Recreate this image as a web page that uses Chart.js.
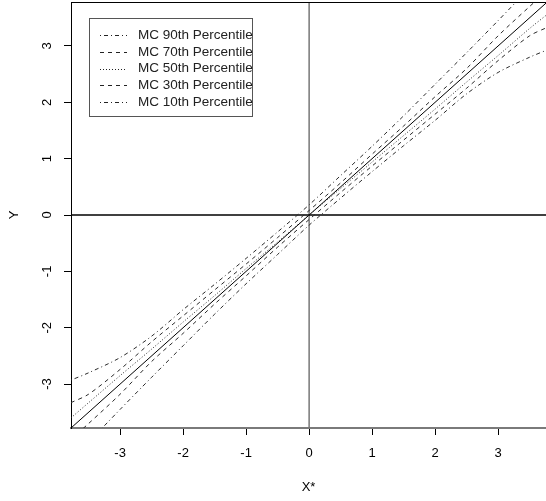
<!DOCTYPE html>
<html>
<head>
<meta charset="utf-8">
<script src="https://cdn.jsdelivr.net/npm/chart.js@4"></script>
<style>
  html, body { margin: 0; padding: 0; background: #fff; }
  #wrap { width: 546px; height: 501px; position: relative; }
</style>
</head>
<body>
<div id="wrap"><canvas id="chart"></canvas></div>
<script>
// valores
const xGrid = [-3.78, -3.5, -3, -2.5, -2, -1.5, -1, -0.5, 0, 0.5, 1, 1.5, 2, 2.5, 3, 3.5, 3.78];
const p90 = [-2.93, -2.80, -2.53, -2.15, -1.68, -1.23, -0.77, -0.30, 0.18, 0.70, 1.22, 1.76, 2.32, 2.88, 3.45, 4.03, 4.35];
const p70 = [-3.33, -3.18, -2.74, -2.25, -1.79, -1.33, -0.87, -0.40, 0.08, 0.57, 1.08, 1.58, 2.10, 2.60, 3.18, 3.70, 3.98];
const p50 = [-3.60, -3.33, -2.85, -2.38, -1.90, -1.43, -0.95, -0.48, 0.00, 0.47, 0.94, 1.41, 1.88, 2.36, 2.83, 3.31, 3.56];
const p30 = [-3.98, -3.70, -3.18, -2.60, -2.10, -1.58, -1.08, -0.57, -0.08, 0.40, 0.87, 1.33, 1.79, 2.25, 2.74, 3.18, 3.33];
const p10 = [-4.35, -4.03, -3.45, -2.88, -2.32, -1.76, -1.22, -0.70, -0.18, 0.30, 0.77, 1.23, 1.68, 2.15, 2.53, 2.80, 2.93];
const diagX = [-3.78, 3.78];
const diagY = [-3.78, 3.78];

const xTicks = [-3, -2, -1, 0, 1, 2, 3];
const yTicks = [-3, -2, -1, 0, 1, 2, 3];
const xLim = [-3.78, 3.76];
const yLim = [-3.78, 3.78];

const legendLabels = ['MC 90th Percentile', 'MC 70th Percentile', 'MC 50th Percentile', 'MC 30th Percentile', 'MC 10th Percentile'];
const series = [p90, p70, p50, p30, p10];
const dashes = [[1, 3, 4, 3], [4, 4], [1, 2], [4, 4], [1, 3, 4, 3]];

const pts = (xs, ys) => xs.map((x, i) => ({ x, y: ys[i] }));

const datasets = series.map((s, i) => ({
  label: legendLabels[i],
  data: pts(xGrid, s),
  borderColor: '#2a2a2a',
  borderWidth: 1,
  borderDash: dashes[i],
  pointRadius: 0,
  tension: 0.3
}));

datasets.push({ label: 'y=x', data: pts(diagX, diagY), borderColor: '#000', borderWidth: 1, pointRadius: 0 });
datasets.push({ label: 'h0', data: pts(yLim, [0, 0]), borderColor: '#000', borderWidth: 1.3, pointRadius: 0 });
datasets.push({ label: 'v0', data: pts([0, 0], yLim), borderColor: '#777', borderWidth: 1.5, pointRadius: 0 });

const marco = {
  id: 'marco',
  afterDraw(chart) {
    const { ctx, chartArea: a } = chart;
    ctx.save();
    ctx.strokeStyle = '#000';
    ctx.lineWidth = 1;
    ctx.beginPath();
    ctx.moveTo(a.left, a.top + 0.5);
    ctx.lineTo(a.right, a.top + 0.5);
    ctx.stroke();

    // leyenda
    ctx.fillStyle = '#fff';
    ctx.fillRect(89, 18, 164, 99);
    ctx.strokeStyle = '#555';
    ctx.strokeRect(89.5, 18.5, 163, 98);
    ctx.font = '13.5px "Liberation Sans", Arial, sans-serif';
    ctx.textBaseline = 'middle';
    ctx.fillStyle = '#222';
    legendLabels.forEach((t, i) => {
      const y = 35 + i * 16.8;
      ctx.strokeStyle = '#222';
      ctx.setLineDash(dashes[i]);
      ctx.beginPath();
      ctx.moveTo(100, Math.round(y) + 0.5);
      ctx.lineTo(127, Math.round(y) + 0.5);
      ctx.stroke();
      ctx.setLineDash([]);
      ctx.fillText(t, 138, y);
    });
    ctx.restore();
  }
};

new Chart(document.getElementById('chart'), {
  type: 'line',
  data: { datasets },
  options: {
    responsive: true,
    maintainAspectRatio: false,
    animation: false,
    layout: { padding: { top: 2, left: 0, right: 0, bottom: 0 } },
    plugins: { legend: { display: false }, tooltip: { enabled: false } },
    scales: {
      x: {
        type: 'linear',
        min: xLim[0],
        max: xLim[1],
        afterBuildTicks: s => { s.ticks = xTicks.map(v => ({ value: v })); },
        afterFit: s => { s.height = 73; s.paddingLeft = 0; s.paddingRight = 0; },
        grid: { display: true, drawOnChartArea: false, drawTicks: true, tickLength: 7, color: '#000' },
        border: { display: true, color: '#7a7a7a', width: 2 },
        ticks: { color: '#000', padding: 11, maxRotation: 0, font: { family: '"Liberation Sans", Arial', size: 13 } },
        title: { display: true, text: 'X*', color: '#000', padding: { top: 0, bottom: 6 }, font: { family: '"Liberation Sans", Arial', size: 13 } }
      },
      y: {
        type: 'linear',
        min: yLim[0],
        max: yLim[1],
        afterBuildTicks: s => { s.ticks = yTicks.map(v => ({ value: v })); },
        afterFit: s => { s.width = 71; s.paddingTop = 0; s.paddingBottom = 0; },
        grid: { display: true, drawOnChartArea: false, drawTicks: true, tickLength: 7, color: '#000' },
        border: { display: true, color: '#000', width: 1 },
        ticks: { color: '#000', padding: 11, minRotation: 90, maxRotation: 90, crossAlign: 'center', font: { family: '"Liberation Sans", Arial', size: 13 } },
        title: { display: true, text: 'Y', color: '#000', padding: { top: 7, bottom: 0 }, font: { family: '"Liberation Sans", Arial', size: 13 } }
      }
    }
  },
  plugins: [marco]
});
</script>
</body>
</html>
